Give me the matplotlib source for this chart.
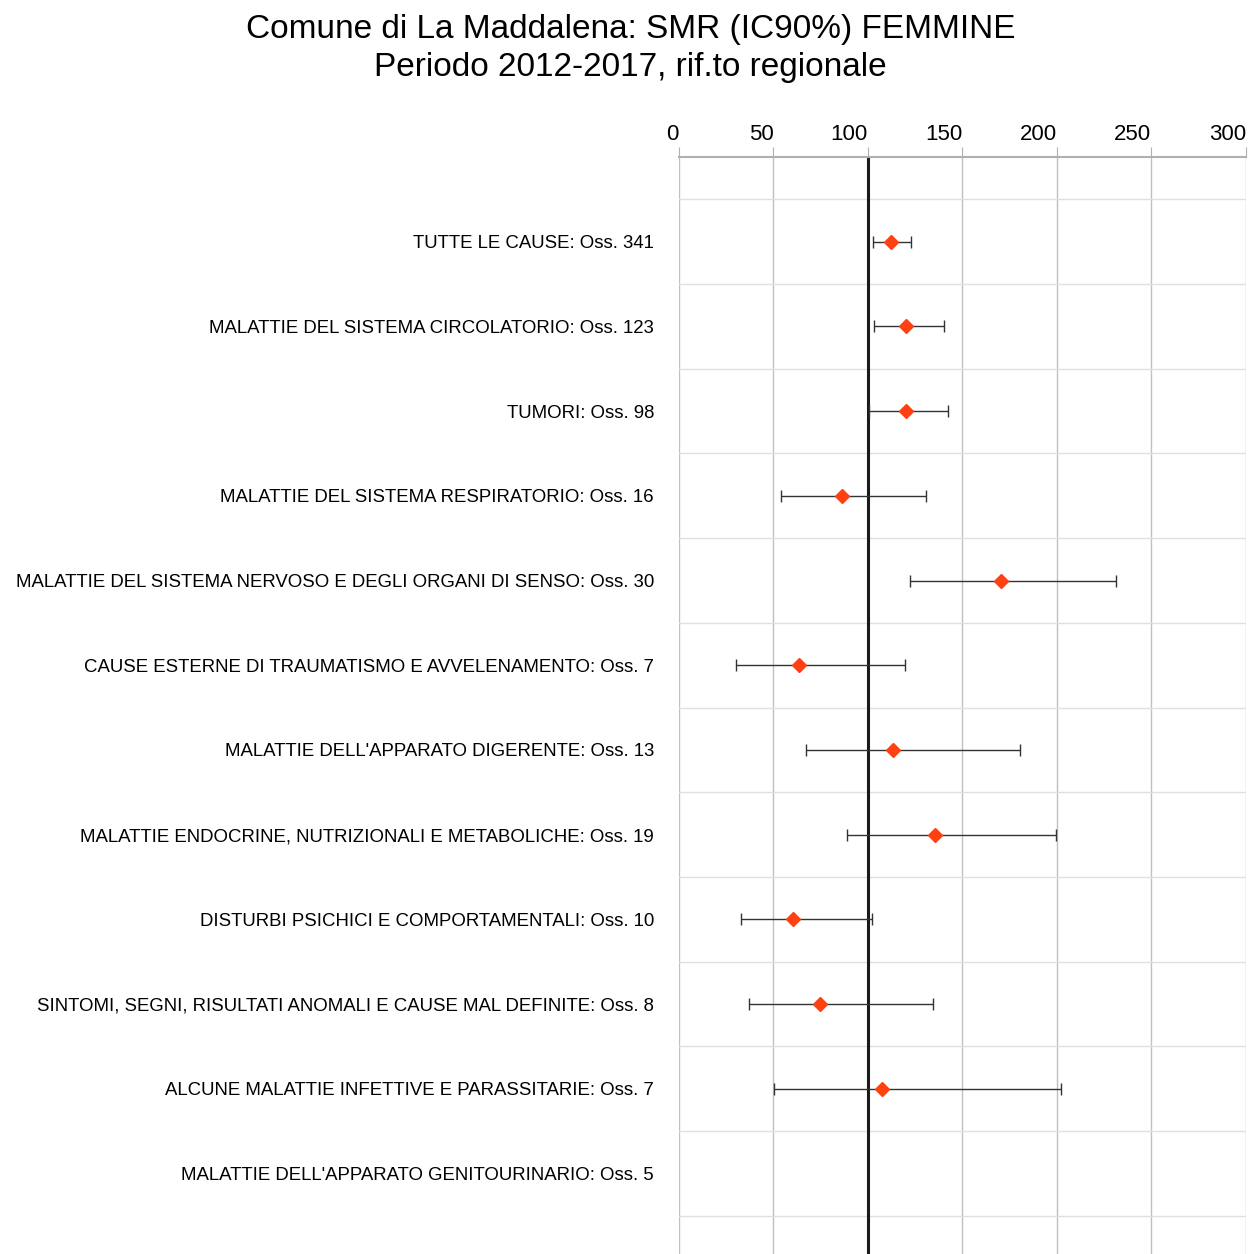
import matplotlib
matplotlib.use("Agg")
import matplotlib.pyplot as plt
import numpy as np

plt.rcParams['font.family'] = ['Liberation Sans', 'DejaVu Sans']

# categories (top to bottom) with observed counts
cause = ["TUTTE LE CAUSE: Oss. 341",
         "MALATTIE DEL SISTEMA CIRCOLATORIO: Oss. 123",
         "TUMORI: Oss. 98",
         "MALATTIE DEL SISTEMA RESPIRATORIO: Oss. 16",
         "MALATTIE DEL SISTEMA NERVOSO E DEGLI ORGANI DI SENSO: Oss. 30",
         "CAUSE ESTERNE DI TRAUMATISMO E AVVELENAMENTO: Oss. 7",
         "MALATTIE DELL'APPARATO DIGERENTE: Oss. 13",
         "MALATTIE ENDOCRINE, NUTRIZIONALI E METABOLICHE: Oss. 19",
         "DISTURBI PSICHICI E COMPORTAMENTALI: Oss. 10",
         "SINTOMI, SEGNI, RISULTATI ANOMALI E CAUSE MAL DEFINITE: Oss. 8",
         "ALCUNE MALATTIE INFETTIVE E PARASSITARIE: Oss. 7",
         "MALATTIE DELL'APPARATO GENITOURINARIO: Oss. 5"]

# SMR and 90% CI (last one not shown)
smr = [112.2, 120.1, 120.1, 86.2, 170.4, 63.5, 113.2, 135.4, 60.3, 74.6, 107.4, np.nan]
ic_low = [102.6, 103.2, 100.5, 54.0, 122.2, 30.2, 67.2, 88.9, 32.8, 37.0, 50.3, np.nan]
ic_high = [122.8, 140.2, 142.3, 130.7, 231.2, 119.6, 180.4, 199.5, 102.1, 134.4, 202.1, np.nan]

smr = np.array(smr)
lo = smr - np.array(ic_low)
hi = np.array(ic_high) - smr
pos = np.arange(1, len(cause) + 1)

fig = plt.figure(figsize=(12.49, 12.54), dpi=100)
ax = fig.add_axes([0.5436, 0.0, 0.454, 0.8748])

# grid
for x in range(0, 301, 50):
    ax.axvline(x, color='#c0c0c0', lw=1, zorder=0)
for y in np.arange(0.5, 13, 1):
    ax.axhline(y, color='#e0e0e0', lw=1, zorder=0)

ax.axvline(100, color='#1a1a1a', lw=2.2, zorder=2)

ax.errorbar(smr, pos, xerr=[lo, hi], fmt='none', ecolor='#333333',
            elinewidth=1, capsize=4, capthick=1, zorder=3)
ax.plot(smr, pos, 'D', color='#ff4010', markersize=7.5, zorder=4)

ax.set_xlim(0, 300)
ax.set_ylim(12.95, 0)
ax.xaxis.tick_top()
ax.set_xticks(range(0, 301, 50))
ax.tick_params(axis='x', length=7, color='#b0b0b0', labelsize=16, pad=2)
for lab in ax.get_xticklabels():
    lab.set_ha('right')
ax.set_yticks(pos)
ax.set_yticklabels(cause, fontsize=13.4)
ax.tick_params(axis='y', length=0, pad=18)

for s in ['left', 'right', 'bottom']:
    ax.spines[s].set_visible(False)
ax.spines['top'].set_color('#b0b0b0')
ax.spines['top'].set_linewidth(1.5)

fig.text(0.505, 0.989, "Comune di La Maddalena: SMR (IC90%) FEMMINE\nPeriodo 2012-2017, rif.to regionale",
         ha='center', va='top', fontsize=24, linespacing=1.3)

fig.savefig("out.png", dpi=100)
